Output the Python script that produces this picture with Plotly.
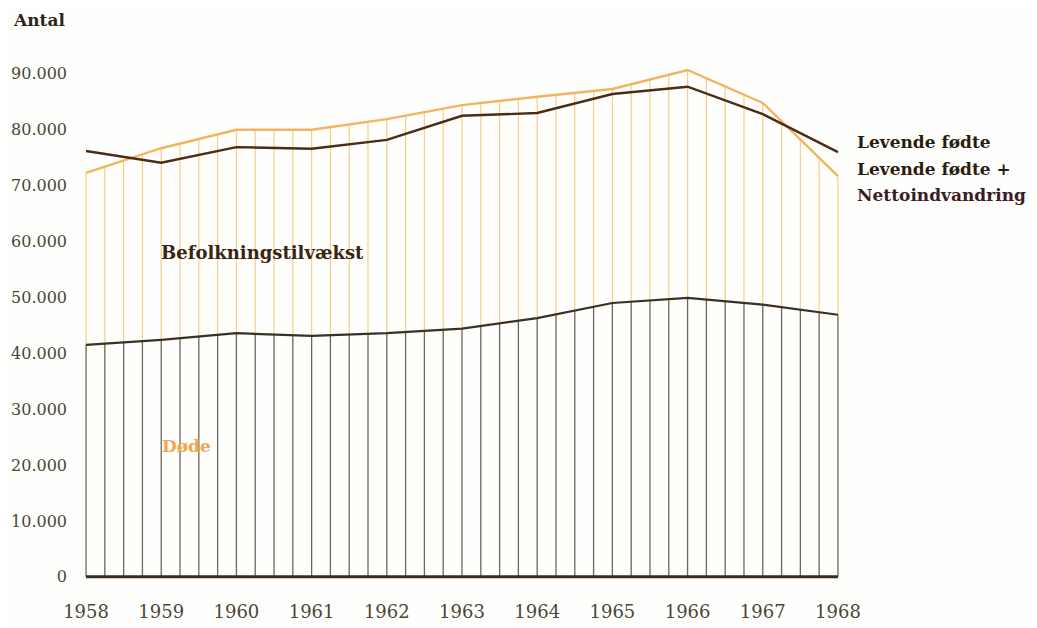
import numpy as np
import plotly.graph_objects as go

years = [1958, 1959, 1960, 1961, 1962, 1963, 1964, 1965, 1966, 1967, 1968]
levende_fodte = [76200, 74100, 76900, 76600, 78200, 82500, 83000, 86400, 87700, 82800, 76000]
levende_plus_netto = [72300, 76700, 80000, 80000, 81900, 84400, 85900, 87300, 90700, 84800, 71700]
dode = [41500, 42400, 43600, 43100, 43600, 44400, 46300, 49000, 49900, 48700, 46900]

ytick_vals = [0, 10000, 20000, 30000, 40000, 50000, 60000, 70000, 80000, 90000]
ytick_text = ["0", "10.000", "20.000", "30.000", "40.000", "50.000", "60.000", "70.000", "80.000", "90.000"]
xtick_vals = years
xtick_text = [str(y) for y in years]

SERIF = "DejaVu Serif"
ORANGE = "#f2b460"
DARK = "#4a2c17"
DEATH = "#3b3024"

# hatch positions: every quarter year
hx = np.arange(0, 41) / 4.0 + years[0]
d_i = np.interp(hx, years, dode)
u_i = np.interp(hx, years, levende_plus_netto)

low_x, low_y, up_x, up_y = [], [], [], []
for x, d, u in zip(hx, d_i, u_i):
    low_x += [x, x, None]
    low_y += [0, d, None]
    up_x += [x, x, None]
    up_y += [d, u, None]

fig = go.Figure()
fig.add_trace(go.Scatter(x=up_x, y=up_y, mode="lines",
                         line=dict(color="#f6cf8a", width=1.2), hoverinfo="skip", showlegend=False))
fig.add_trace(go.Scatter(x=low_x, y=low_y, mode="lines",
                         line=dict(color="#6e655a", width=1.3), hoverinfo="skip", showlegend=False))
fig.add_trace(go.Scatter(x=[years[0], years[-1]], y=[0, 0], mode="lines",
                         line=dict(color="#3a2a1e", width=3), hoverinfo="skip", showlegend=False))
fig.add_trace(go.Scatter(x=years, y=dode, mode="lines",
                         line=dict(color=DEATH, width=2.2), name="Døde", showlegend=False))
fig.add_trace(go.Scatter(x=years, y=levende_plus_netto, mode="lines",
                         line=dict(color=ORANGE, width=2.4), name="Levende fødte + Nettoindvandring",
                         showlegend=False))
fig.add_trace(go.Scatter(x=years, y=levende_fodte, mode="lines",
                         line=dict(color=DARK, width=2.4), name="Levende fødte", showlegend=False))

fig.update_layout(
    width=1037, height=628,
    paper_bgcolor="#fefefc", plot_bgcolor="#fefefc",
    margin=dict(l=63, r=192, t=10, b=48, autoexpand=False),
    xaxis=dict(range=[1957.8, 1968.2], tickvals=xtick_vals, ticktext=xtick_text,
               showgrid=False, zeroline=False, showline=False, ticks="",
               ticklabelstandoff=11, automargin=False,
               tickfont=dict(family=SERIF, size=18, color="#4b4535")),
    yaxis=dict(range=[-2000, 100000], tickvals=ytick_vals, ticktext=ytick_text,
               showgrid=False, zeroline=False, showline=False, ticks="",
               ticklabelstandoff=3, automargin=False,
               tickfont=dict(family=SERIF, size=16, color="#4b4535")),
    showlegend=False,
)

fig.add_annotation(text="<b>Antal</b>", xref="paper", yref="paper", x=-0.077, y=1.0,
                   xanchor="left", yanchor="middle", yshift=-2, showarrow=False,
                   font=dict(family=SERIF, size=17, color="#2e2418"))
fig.add_annotation(text="<b>Befolkningstilvækst</b>", x=1958.97, y=58100, xanchor="left",
                   showarrow=False, font=dict(family=SERIF, size=18, color="#3a2412"))
fig.add_annotation(text="<b>Døde</b>", x=1958.99, y=23400, xanchor="left",
                   showarrow=False, font=dict(family=SERIF, size=17, color="#f0a850"))
fig.add_annotation(text="<b>Levende fødte</b>", xref="paper", x=1.0, y=77800, xanchor="left",
                   xshift=2, showarrow=False, font=dict(family=SERIF, size=17, color="#2a1d10"))
fig.add_annotation(text="<b>Levende fødte +</b>", xref="paper", x=1.0, y=73000, xanchor="left",
                   xshift=2, showarrow=False, font=dict(family=SERIF, size=17, color="#2a1d10"))
fig.add_annotation(text="<b>Nettoindvandring</b>", xref="paper", x=1.0, y=68300, xanchor="left",
                   xshift=2, showarrow=False, font=dict(family=SERIF, size=17, color="#3a1d24"))

fig.write_html("out.html")
